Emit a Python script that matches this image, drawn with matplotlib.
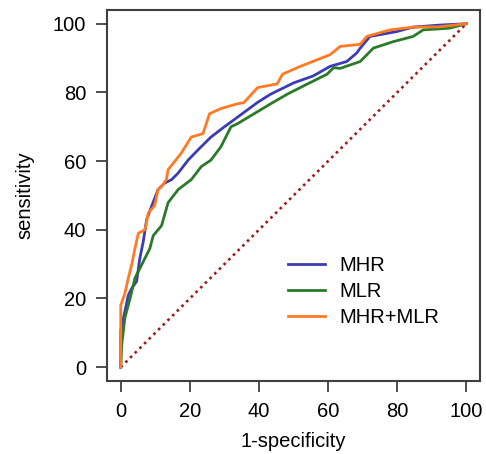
import matplotlib.pyplot as plt

# ROC curves (x = 1-specificity %, y = sensitivity %)
mhr_x = [0, 0, 0.8, 2.2, 3.2, 4.6, 5.5, 6.5, 7.5, 8.9, 10.8, 12.7, 14.7, 16.6, 19.5,
         22.3, 26.1, 30, 33.8, 39.6, 43.4, 50.1, 55.7, 60.6, 65.4, 68.3, 69.3, 72.1,
         79.8, 84.5, 92.2, 100]
mhr_y = [0, 10.6, 14.4, 21, 23, 25, 31.6, 36.5, 43, 46.8, 51.7, 53.6, 54.6, 56.5, 60.3,
         63.2, 67, 70, 72.8, 77.1, 79.5, 82.8, 84.8, 87.6, 89, 91.5, 92.9, 96.3,
         97.7, 99, 99.6, 100]

mlr_x = [0, 0.3, 1.2, 2.7, 4.1, 6, 8.4, 9.4, 11.8, 13.7, 16.6, 20.4, 23.3, 26.1, 29,
         31.9, 33.8, 38.6, 43.4, 48.2, 53.9, 59.7, 61.6, 63.5, 69.3, 73.1, 78.9, 84.6,
         87.5, 95.1, 100]
mlr_y = [0, 6.7, 14.4, 20, 25.9, 29.7, 34.5, 38.3, 41.2, 47.9, 51.7, 54.6, 58.4, 60.3, 64.2,
         70, 70.9, 73.8, 76.7, 79.5, 82.4, 85.3, 87.2, 87, 89, 92.9, 94.8, 96.3,
         98.2, 98.7, 100]

both_x = [0, 0, 1.2, 2.2, 3.2, 4.1, 5.1, 7, 8, 9.8, 10.8, 11.8, 13.2, 13.7, 17.5, 20.4,
          23.8, 25.7, 29, 33.8, 35.6, 39.6, 45.3, 46.8, 52, 60.6, 63.5, 69.3, 71.2,
          77.9, 84.5, 92.2, 100]
both_y = [0, 18, 21.5, 26, 30, 34.5, 39, 40, 45, 47, 51.7, 52.6, 54.6, 57.5, 62.3, 67,
          68, 73.8, 75.3, 76.7, 77, 81.4, 82.5, 85.3, 87.6, 91, 93.4, 94, 96.3,
          98.2, 99, 99.1, 100]

ticks = [0, 20, 40, 60, 80, 100]

plt.rcParams['font.family'] = ['Liberation Sans', 'DejaVu Sans']

fig = plt.figure(figsize=(4.86, 4.54), dpi=100)
ax = fig.add_axes([0.220, 0.161, 0.768, 0.817])

ax.plot([0, 100], [0, 100], color='#9b1b1b', linestyle=(0, (1, 1.5)), linewidth=1.9)
ax.plot(mhr_x, mhr_y, color='#3c3cb4', linewidth=2, label='MHR')
ax.plot(mlr_x, mlr_y, color='#2a7a2a', linewidth=2, label='MLR')
ax.plot(both_x, both_y, color='#ff7a22', linewidth=2, label='MHR+MLR')

ax.set_xlim(-4, 104)
ax.set_ylim(-4, 104)
ax.set_xticks(ticks)
ax.set_yticks(ticks)
ax.tick_params(direction='out', length=8, width=1.3, labelsize=14.5, color='#404040', pad=7)
for s in ax.spines.values():
    s.set_linewidth(1.5)
    s.set_color('#404040')

ax.set_xlabel('1-specificity', fontsize=14.5, labelpad=8)
ax.set_ylabel('sensitivity', fontsize=14.5, labelpad=13)

ax.legend(loc='lower left', bbox_to_anchor=(0.485, 0.145), frameon=False, fontsize=14.5,
          handlelength=1.85, handletextpad=0.7, labelspacing=0.35, borderpad=0, borderaxespad=0)

fig.savefig('out.png', dpi=100)
